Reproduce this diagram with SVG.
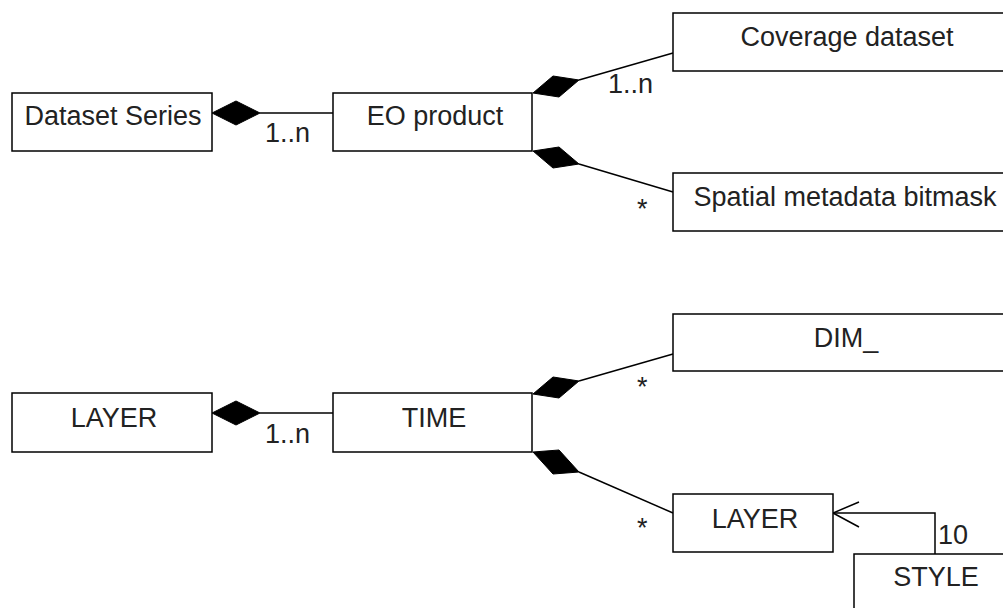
<svg xmlns="http://www.w3.org/2000/svg" width="1003" height="608" viewBox="0 0 1003 608">
<style>
.box{fill:#fff;stroke:#000;stroke-width:1.5}
.t{font-family:"Liberation Sans",Arial,sans-serif;font-size:27px;fill:#222;text-anchor:middle}
.l{font-family:"Liberation Sans",Arial,sans-serif;font-size:27px;fill:#222}
.c{fill:none;stroke:#000;stroke-width:1.5}
.d{fill:#000;stroke:#000;stroke-width:1}
</style>
<rect width="1003" height="608" fill="#fff"/>
<g id="connectors">
<line class="c" x1="260" y1="113" x2="333" y2="113"/>
<path class="d" d="M212,113 L236,101 L260,113 L236,125 Z"/>
<line class="c" x1="579" y1="80" x2="673" y2="53"/>
<path class="d" d="M533,93 L553,76 L579,80 L559,97 Z"/>
<line class="c" x1="579" y1="164" x2="673" y2="192"/>
<path class="d" d="M533,151 L559,147 L579,164 L553,168 Z"/>
<line class="c" x1="260" y1="413" x2="333" y2="413"/>
<path class="d" d="M212,413 L236,401 L260,413 L236,425 Z"/>
<line class="c" x1="579" y1="381" x2="673" y2="354"/>
<path class="d" d="M533,394 L553,377 L579,381 L559,398 Z"/>
<line class="c" x1="579" y1="472" x2="673" y2="513"/>
<path class="d" d="M533,452 L559,450 L579,472 L553,474 Z"/>
<polyline class="c" points="833,513 935,513 935,554"/>
<polyline class="c" points="859,502 833,513 859,527"/>
<text class="l" x="265" y="142">1..n</text>
<text class="l" x="608" y="93">1..n</text>
<text class="l" x="637" y="218">*</text>
<text class="l" x="265" y="443">1..n</text>
<text class="l" x="637" y="396">*</text>
<text class="l" x="637" y="537">*</text>
<text class="l" x="938" y="544">10</text>
</g>
<g id="dataset-series"><rect class="box" x="12" y="93" width="200" height="58"/><text class="t" x="113" y="125">Dataset Series</text></g>
<g id="eo-product"><rect class="box" x="333" y="93" width="199" height="58"/><text class="t" x="435" y="125">EO product</text></g>
<g id="coverage-dataset"><rect class="box" x="673" y="13" width="350" height="58"/><text class="t" x="847" y="46">Coverage dataset</text></g>
<g id="spatial-bitmask"><rect class="box" x="673" y="173" width="350" height="58"/><text class="t" x="845" y="206">Spatial metadata bitmask</text></g>
<g id="layer"><rect class="box" x="12" y="393" width="200" height="59"/><text class="t" x="114" y="427">LAYER</text></g>
<g id="time"><rect class="box" x="333" y="393" width="199" height="59"/><text class="t" x="434" y="427">TIME</text></g>
<g id="dim"><rect class="box" x="673" y="314" width="350" height="57"/><text class="t" x="846" y="347">DIM_</text></g>
<g id="layer2"><rect class="box" x="673" y="494" width="160" height="58"/><text class="t" x="755" y="528">LAYER</text></g>
<g id="style-node"><rect class="box" x="854" y="554" width="170" height="70"/><text class="t" x="936" y="586">STYLE</text></g>
</svg>
